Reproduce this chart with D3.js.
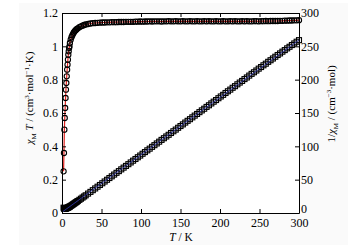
<!DOCTYPE html>
<html>
<head>
<meta charset="utf-8">
<script src="https://cdn.jsdelivr.net/npm/d3@7"></script>
<style>
  body { margin: 0; background: #fff; }
  svg { display: block; }
  text { font-family: "Liberation Serif", "Times New Roman", serif; fill: #000; }
</style>
</head>
<body>
<div id="chart"></div>
<script>
/* DATA */
// temperatures, K
const temps = [2, 2.5, 3, 3.5, 4, 4.5, 5, 5.5, 6, 6.5, 7, 7.5, 8, 8.5, 9, 9.5, 10,
  11, 12, 13, 14, 15, 16, 17, 18, 19, 20, 22, 24, 26, 28, 30,
  33, 36, 39, 42, 45, 48, 51, 54, 57, 60, 63, 66, 69, 72, 75, 78, 81, 84, 87, 90,
  93, 96, 99, 102, 105, 108, 111, 114, 117, 120, 123, 126, 129, 132, 135, 138, 141, 144, 147, 150,
  153, 156, 159, 162, 165, 168, 171, 174, 177, 180, 183, 186, 189, 192, 195, 198, 201, 204, 207, 210,
  213, 216, 219, 222, 225, 228, 231, 234, 237, 240, 243, 246, 249, 252, 255, 258, 261, 264, 267, 270,
  273, 276, 279, 282, 285, 288, 291, 294, 297, 300];

// chi_M T, cm3 mol-1 K (circles, left axis)
const chiT = [0.25, 0.36, 0.50, 0.57, 0.63, 0.69, 0.74, 0.78, 0.82, 0.86, 0.89, 0.92, 0.95, 0.97, 0.99, 1.00, 1.02,
  1.04, 1.055, 1.065, 1.075, 1.083, 1.09, 1.095, 1.10, 1.105, 1.108, 1.115, 1.12, 1.124, 1.128, 1.131,
  1.134, 1.137, 1.139, 1.140, 1.141, 1.142, 1.143, 1.143, 1.144, 1.144, 1.145, 1.145, 1.145, 1.146, 1.146, 1.146, 1.147, 1.147, 1.147, 1.147,
  1.148, 1.148, 1.149, 1.148, 1.149, 1.149, 1.150, 1.149, 1.150, 1.150, 1.150, 1.149, 1.150, 1.150, 1.151, 1.150, 1.150, 1.151, 1.150, 1.150,
  1.151, 1.150, 1.150, 1.151, 1.150, 1.150, 1.151, 1.150, 1.150, 1.151, 1.150, 1.151, 1.150, 1.150, 1.151, 1.150, 1.150, 1.151, 1.150, 1.150,
  1.151, 1.150, 1.151, 1.150, 1.150, 1.151, 1.150, 1.151, 1.150, 1.150, 1.151, 1.151, 1.150, 1.151, 1.151, 1.152, 1.151, 1.152, 1.152, 1.152,
  1.152, 1.153, 1.153, 1.154, 1.154, 1.155, 1.155, 1.156, 1.156, 1.157];

// 1/chi_M, cm-3 mol (squares, right axis)
const invChi = [8.0, 6.94, 6.0, 6.14, 6.35, 6.52, 6.76, 7.05, 7.32, 7.56, 7.87, 8.15, 8.42, 8.76, 9.09, 9.5, 9.80,
  10.58, 11.37, 12.21, 13.02, 13.85, 14.68, 15.53, 16.36, 17.19, 18.05, 19.73, 21.43, 23.13, 24.82, 26.53,
  29.10, 31.66, 34.24, 36.84, 39.44, 42.03, 44.62, 47.24, 49.83, 52.45, 55.02, 57.64, 60.26, 62.83, 65.45, 68.06, 70.62, 73.23, 75.85, 78.47,
  81.01, 83.62, 86.16, 88.85, 91.38, 94.00, 96.52, 99.22, 101.74, 104.35, 106.96, 109.66, 112.17, 114.78, 117.29, 120.00, 122.61, 125.11, 127.83, 130.43,
  132.93, 135.65, 138.26, 140.75, 143.48, 146.09, 148.57, 151.30, 153.91, 156.39, 159.13, 161.60, 164.35, 166.96, 169.42, 172.17, 174.78, 177.24, 180.00, 182.61,
  185.06, 187.83, 190.27, 193.04, 195.65, 198.09, 200.87, 203.30, 206.09, 208.70, 211.12, 213.73, 216.52, 218.94, 221.55, 223.96, 226.76, 229.17, 231.77, 234.38,
  236.98, 239.38, 241.98, 244.37, 246.97, 249.35, 251.95, 254.33, 256.92, 259.29];

// Curie-Weiss fit line (blue)
const fitT = [0, 300];
const fitInv = [1.2, 259.5];

// ticks
const xTicks = [0, 50, 100, 150, 200, 250, 300];
const leftTicks = [0, 0.2, 0.4, 0.6, 0.8, 1, 1.2];
const rightTicks = [0, 50, 100, 150, 200, 250, 300];

/* LAYOUT */
const width = 356, height = 245;
const margin = { top: 13, bottom: 32, left: 62, right: 57 };

const svg = d3.select("#chart").append("svg")
  .attr("width", width)
  .attr("height", height);

// faint page panel
svg.append("rect")
  .attr("x", 19).attr("y", 3)
  .attr("width", 329).attr("height", 242)
  .attr("fill", "#fafafa");

const xScale = d3.scaleLinear().domain([0, 300]).range([margin.left, width - margin.right]);
const yLeft = d3.scaleLinear().domain([0, 1.2]).range([height - margin.bottom, margin.top]);
const yRight = d3.scaleLinear().domain([0, 300]).range([height - margin.bottom, margin.top]);

const plotBottom = height - margin.bottom;
const plotRight = width - margin.right;

// plot area background
svg.append("rect")
  .attr("x", margin.left).attr("y", margin.top)
  .attr("width", plotRight - margin.left).attr("height", plotBottom - margin.top)
  .attr("fill", "#fff");

/* MARKS */
const pts = temps.map((t, i) => ({ t: t, c: chiT[i], inv: invChi[i] }));

// squares: 1/chi
const sq = 5;
svg.append("g")
  .selectAll("rect")
  .data(pts)
  .join("rect")
  .attr("x", d => xScale(d.t) - sq / 2)
  .attr("y", d => yRight(d.inv) - sq / 2)
  .attr("width", sq)
  .attr("height", sq)
  .attr("fill", "none")
  .attr("stroke", "#000")
  .attr("stroke-width", 1.1);

const fitLine = d3.line()
  .x(d => xScale(d[0]))
  .y(d => yRight(d[1]));

svg.append("path")
  .datum(fitT.map((t, i) => [t, fitInv[i]]))
  .attr("fill", "none")
  .attr("stroke", "#2a2f8f")
  .attr("stroke-width", 1)
  .attr("d", fitLine);

// red line under the circles
const chiLine = d3.line()
  .x(d => xScale(d.t))
  .y(d => yLeft(d.c));

svg.append("path")
  .datum(pts)
  .attr("fill", "none")
  .attr("stroke", "#e0201c")
  .attr("stroke-width", 1.2)
  .attr("d", chiLine);

// circles: chi T
svg.append("g")
  .selectAll("circle")
  .data(pts)
  .join("circle")
  .attr("cx", d => xScale(d.t))
  .attr("cy", d => yLeft(d.c))
  .attr("r", 2.6)
  .attr("fill", "none")
  .attr("stroke", "#000")
  .attr("stroke-width", 1.1);

/* AXES (ticks pointing inward) */
const fmt = d3.format("~g");

svg.append("g")
  .attr("transform", `translate(0,${plotBottom})`)
  .call(d3.axisBottom(xScale).tickValues(xTicks).tickFormat(fmt)
    .tickSizeInner(-4).tickSizeOuter(0).tickPadding(5));

svg.append("g")
  .attr("transform", `translate(0,${margin.top})`)
  .call(d3.axisTop(xScale).tickValues(xTicks).tickFormat("")
    .tickSizeInner(-4).tickSizeOuter(0));

svg.append("g")
  .attr("transform", `translate(${margin.left},0)`)
  .call(d3.axisLeft(yLeft).tickValues(leftTicks).tickFormat(fmt)
    .tickSizeInner(-4).tickSizeOuter(0).tickPadding(4));

const rightAxis = svg.append("g")
  .attr("transform", `translate(${plotRight},0)`)
  .call(d3.axisRight(yRight).tickValues(rightTicks).tickFormat(fmt)
    .tickSizeInner(-4).tickSizeOuter(0).tickPadding(2));

// lift the right-hand "0" a little so it clears the "300" below it
rightAxis.selectAll(".tick text").filter(d => d === 0).attr("dy", "-0.05em");

svg.selectAll(".domain").attr("stroke", "#000").attr("stroke-width", 1);
svg.selectAll(".tick line").attr("stroke", "#000");
svg.selectAll(".tick text")
  .attr("font-family", "Liberation Serif, serif")
  .attr("font-size", 12)
  .attr("fill", "#000");

/* AXIS LABELS */
const labelSize = 11;

// x label
const xl = svg.append("text")
  .attr("x", 181).attr("y", 241)
  .attr("text-anchor", "middle")
  .attr("font-size", 11.5);
xl.append("tspan").attr("font-style", "italic").text("T");
xl.append("tspan").text(" / K");

// left label
const ll = svg.append("text")
  .attr("transform", "translate(33,98) rotate(-90)")
  .attr("text-anchor", "middle")
  .attr("font-size", labelSize);
ll.append("tspan").attr("font-style", "italic").text("χ");
ll.append("tspan").attr("font-size", 7).attr("dy", 3).text("M");
ll.append("tspan").attr("font-style", "italic").attr("dy", -3).text(" T");
ll.append("tspan").text(" / (cm");
ll.append("tspan").attr("font-size", 7).attr("dy", -4).text("3");
ll.append("tspan").attr("dy", 4).text("·mol");
ll.append("tspan").attr("font-size", 7).attr("dy", -4).text("−1");
ll.append("tspan").attr("dy", 4).text("·K)");

// right label
const rl = svg.append("text")
  .attr("transform", "translate(335,104) rotate(-90)")
  .attr("text-anchor", "middle")
  .attr("font-size", labelSize);
rl.append("tspan").text("1/");
rl.append("tspan").attr("font-style", "italic").text("χ");
rl.append("tspan").attr("font-size", 7).attr("dy", 3).text("M");
rl.append("tspan").attr("dy", -3).text(" / (cm");
rl.append("tspan").attr("font-size", 7).attr("dy", -4).text("−3");
rl.append("tspan").attr("dy", 4).text("·mol)");
</script>
</body>
</html>
